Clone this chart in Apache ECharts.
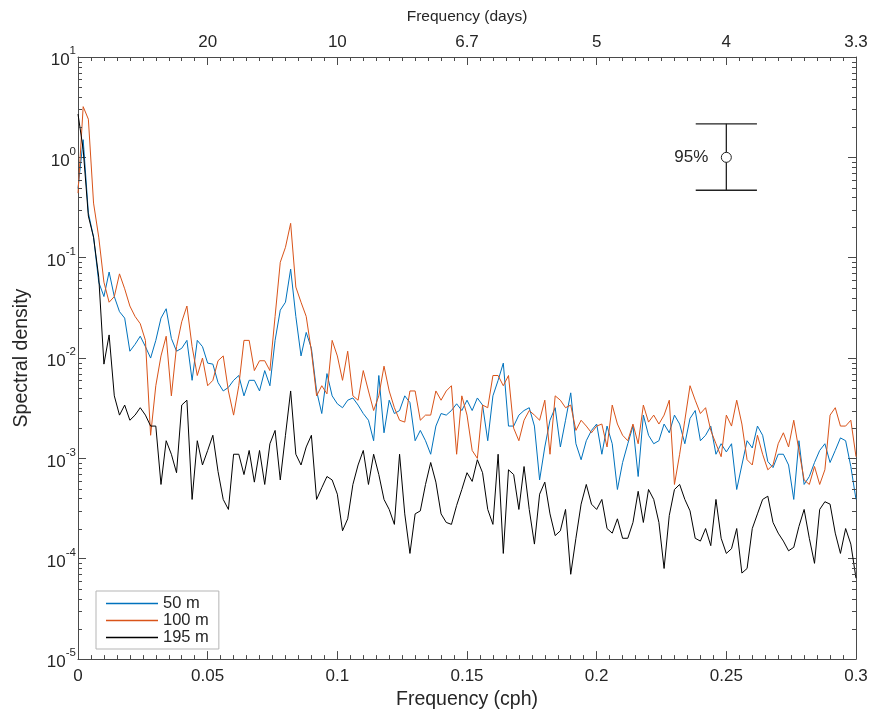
<!DOCTYPE html>
<html><head><meta charset="utf-8">
<script src="https://cdn.jsdelivr.net/npm/echarts@6/dist/echarts.min.js"></script>
<style>html,body{margin:0;padding:0;background:#fff}#c{width:872px;height:715px}</style>
</head><body><div id="c"></div>
<script>
// frequency grid (cph)
const freq = [0,0.002,0.004,0.006,0.008,0.01,0.012,0.014,0.016,0.018,
0.02,0.022,0.024,0.026,0.028,0.03,0.032,0.034,0.036,0.038,
0.04,0.042,0.044,0.046,0.048,0.05,0.052,0.054,0.056,0.058,
0.06,0.062,0.064,0.066,0.068,0.07,0.072,0.074,0.076,0.078,
0.08,0.082,0.084,0.086,0.088,0.09,0.092,0.094,0.096,0.098,
0.1,0.102,0.104,0.106,0.108,0.11,0.112,0.114,0.116,0.118,
0.12,0.122,0.124,0.126,0.128,0.13,0.132,0.134,0.136,0.138,
0.14,0.142,0.144,0.146,0.148,0.15,0.152,0.154,0.156,0.158,
0.16,0.162,0.164,0.166,0.168,0.17,0.172,0.174,0.176,0.178,
0.18,0.182,0.184,0.186,0.188,0.19,0.192,0.194,0.196,0.198,
0.2,0.202,0.204,0.206,0.208,0.21,0.212,0.214,0.216,0.218,
0.22,0.222,0.224,0.226,0.228,0.23,0.232,0.234,0.236,0.238,
0.24,0.242,0.244,0.246,0.248,0.25,0.252,0.254,0.256,0.258,
0.26,0.262,0.264,0.266,0.268,0.27,0.272,0.274,0.276,0.278,
0.28,0.282,0.284,0.286,0.288,0.29,0.292,0.294,0.296,0.298,
0.3];

const spec50 = [0.49,1.5,0.28,0.16,0.057,0.041,0.072,0.041,0.029,0.025,
0.0117,0.0137,0.0165,0.013,0.010,0.015,0.025,0.031,0.0157,0.0117,
0.0125,0.015,0.006,0.015,0.013,0.0089,0.0087,0.0057,0.0047,0.0051,
0.006,0.0067,0.0042,0.006,0.006,0.0047,0.0075,0.0053,0.015,0.030,
0.036,0.077,0.026,0.0105,0.018,0.0125,0.0047,0.0028,0.007,0.0042,
0.0035,0.0032,0.0038,0.004,0.0034,0.0028,0.0024,0.0015,0.0067,0.0018,
0.0038,0.0028,0.003,0.0042,0.0036,0.0015,0.0019,0.0015,0.0011,0.0021,
0.0028,0.0027,0.003,0.0035,0.003,0.0038,0.003,0.004,0.0034,0.0015,
0.0042,0.006,0.0089,0.0021,0.0021,0.0027,0.003,0.0032,0.0021,0.00061,
0.0013,0.0024,0.0032,0.0013,0.0024,0.0045,0.0014,0.00097,0.0015,0.0019,
0.0022,0.0011,0.0021,0.0014,0.00049,0.00091,0.0014,0.0021,0.00066,0.0027,
0.0017,0.0014,0.0015,0.0022,0.0018,0.0027,0.0022,0.0014,0.0025,0.003,
0.0015,0.0017,0.0021,0.0011,0.0014,0.00116,0.0014,0.00049,0.00086,0.0015,
0.00127,0.0021,0.0017,0.00093,0.00081,0.0011,0.0011,0.00086,0.00039,0.0015,
0.00055,0.00066,0.00091,0.0012,0.0014,0.00091,0.0012,0.0016,0.0015,0.00083,
0.00039];

const spec100 = [0.44,3.2,2.4,0.35,0.16,0.057,0.036,0.041,0.069,0.049,
0.033,0.026,0.022,0.015,0.0017,0.0053,0.0105,0.0165,0.0042,0.013,
0.023,0.033,0.013,0.0067,0.010,0.0053,0.006,0.0094,0.0105,0.0047,
0.0027,0.0053,0.015,0.015,0.0075,0.0094,0.0094,0.0075,0.026,0.09,
0.127,0.22,0.051,0.036,0.026,0.0117,0.0042,0.0053,0.0044,0.015,
0.0105,0.006,0.0117,0.0042,0.0038,0.0075,0.0047,0.003,0.0042,0.0083,
0.0047,0.0032,0.0024,0.0023,0.0047,0.0047,0.0024,0.0027,0.0027,0.0047,
0.0038,0.0047,0.0053,0.0011,0.0042,0.0027,0.0012,0.001,0.0034,0.0032,
0.0067,0.0067,0.0053,0.0067,0.002,0.0015,0.0024,0.003,0.0027,0.0024,
0.0038,0.0011,0.0042,0.0038,0.0032,0.0034,0.0019,0.0024,0.0021,0.0018,
0.0021,0.0022,0.0013,0.0034,0.0022,0.0017,0.0015,0.0022,0.0014,0.0034,
0.0023,0.0027,0.0022,0.0027,0.0038,0.00055,0.0011,0.0024,0.0053,0.0038,
0.0028,0.0032,0.0019,0.0014,0.00104,0.0027,0.0021,0.0038,0.0022,0.00097,
0.00086,0.0017,0.0011,0.00077,0.00086,0.0014,0.0018,0.0013,0.0024,0.0012,
0.00061,0.00055,0.00083,0.00055,0.00077,0.0027,0.0032,0.0021,0.0021,0.0024,
0.00104];

const spec195 = [2.7,1.2,0.26,0.16,0.064,0.0087,0.017,0.0042,0.0027,0.0034,
0.0024,0.0027,0.0032,0.0027,0.0021,0.0021,0.00055,0.0015,0.0011,0.00072,
0.0034,0.0038,0.00039,0.0015,0.00086,0.0012,0.0017,0.00074,0.00039,0.00031,
0.0011,0.0011,0.00069,0.0012,0.00058,0.0012,0.00055,0.0014,0.0019,0.00061,
0.0017,0.0047,0.0011,0.00086,0.0013,0.0017,0.00039,0.00051,0.00066,0.00061,
0.00044,0.00019,0.00025,0.00055,0.00086,0.0012,0.00055,0.0011,0.00069,0.00039,
0.00031,0.00022,0.0011,0.00028,0.000113,0.00028,0.0003,0.00055,0.00091,0.00058,
0.00028,0.00023,0.00022,0.00034,0.00049,0.00072,0.00059,0.00097,0.00072,0.00031,
0.00022,0.0011,0.000113,0.00077,0.00069,0.00031,0.00083,0.00031,0.00014,0.00044,
0.00058,0.00028,0.00017,0.00019,0.00031,0.00007,0.00016,0.00035,0.00055,0.00035,
0.00031,0.00039,0.0002,0.00018,0.00025,0.00016,0.00016,0.00023,0.00047,0.00023,
0.00049,0.00039,0.00023,0.00008,0.00027,0.00049,0.00055,0.00039,0.0003,0.00016,
0.00015,0.0002,0.000135,0.00039,0.00016,0.000113,0.000126,0.0002,0.000072,0.00008,
0.0002,0.00028,0.00039,0.00042,0.00023,0.00018,0.00015,0.00012,0.00013,0.00021,
0.00031,0.00016,0.00009,0.00031,0.00037,0.00035,0.00018,0.000113,0.0002,0.00014,
0.000064];

const seriesNames = ['50 m', '100 m', '195 m'];
const seriesColors = ['#0072BD', '#D95319', '#000000'];

const topTickValues = [0.05, 0.1, 0.15, 0.2, 0.25, 0.3];
const topTickLabels = ['20', '10', '6.7', '5', '4', '3.3'];

// 95% confidence bar
const ciFreq = 0.25;
const ciLow = 0.47;
const ciHigh = 2.16;
const ciCenter = 1.0;
const ciCapHalfWidth = 0.0118;
const ciLabel = '95%';

const FONT = '"Liberation Sans", Arial, Helvetica, sans-serif';
const TXT = '#262626';
const AX = '#4a4a4a';

// log minor tick positions (2..9 x 10^k)
const logMinor = [];
for (let k = -5; k <= 0; k++) for (let m = 2; m <= 9; m++) logMinor.push(m * Math.pow(10, k));

const chart = echarts.init(document.getElementById('c'), null, {renderer: 'canvas'});

function lineSeries(name, vals, color) {
  return {
    name, type: 'line', xAxisIndex: 0, yAxisIndex: 0,
    data: freq.map((f, i) => [f, vals[i]]),
    symbol: 'none', showSymbol: false, color: color,
    lineStyle: {color, width: 1}, itemStyle: {color},
    emphasis: {disabled: true}, animation: false, z: 3
  };
}

const supLabel = function (v) {
  const e = Math.round(Math.log10(v));
  return '{b|10}{s|' + e + '}';
};
const supRich = {
  b: {fontSize: 17, fontFamily: FONT, color: TXT, lineHeight: 24, verticalAlign: 'bottom'},
  s: {fontSize: 11.5, fontFamily: FONT, color: TXT, lineHeight: 10, verticalAlign: 'top'}
};

const option = {
  animation: false,
  backgroundColor: '#fff',
  grid: {left: 78, right: 16, top: 57, bottom: 48, containLabel: false},
  xAxis: [
    {
      type: 'value', position: 'bottom', min: 0, max: 0.3, interval: 0.05,
      name: 'Frequency (cph)', nameLocation: 'middle', nameGap: 27,
      nameTextStyle: {fontSize: 19.5, fontFamily: FONT, color: TXT},
      axisLine: {show: true, onZero: false, lineStyle: {color: AX, width: 1}},
      axisTick: {show: true, inside: true, length: 8, lineStyle: {color: AX}},
      minorTick: {show: true, splitNumber: 10, length: 4, lineStyle: {color: AX}},
      axisLabel: {fontSize: 17, fontFamily: FONT, color: TXT, margin: 9,
        formatter: v => String(+v.toFixed(2))},
      splitLine: {show: false}
    },
    {
      type: 'value', position: 'top', min: 0, max: 0.3, interval: 0.05,
      name: 'Frequency (days)', nameLocation: 'middle', nameGap: 32,
      nameTextStyle: {fontSize: 15.5, fontFamily: FONT, color: TXT},
      axisLine: {show: true, onZero: false, lineStyle: {color: AX, width: 1}},
      axisTick: {show: true, inside: true, length: 8, lineStyle: {color: AX}},
      minorTick: {show: true, splitNumber: 10, length: 4, lineStyle: {color: AX}},
      axisLabel: {fontSize: 17, fontFamily: FONT, color: TXT, margin: 6,
        formatter: v => {
          const i = topTickValues.findIndex(t => Math.abs(t - v) < 1e-9);
          return i >= 0 ? topTickLabels[i] : '';
        }},
      splitLine: {show: false}
    }
  ],
  yAxis: [
    {
      type: 'log', logBase: 10, min: 1e-5, max: 10, splitNumber: 6, position: 'left',
      name: 'Spectral density', nameLocation: 'middle', nameGap: 46, nameRotate: 90,
      nameTextStyle: {fontSize: 19.5, fontFamily: FONT, color: TXT},
      axisLine: {show: true, onZero: false, lineStyle: {color: AX, width: 1}},
      axisTick: {show: true, inside: true, length: 8, lineStyle: {color: AX}},
      axisLabel: {margin: 2, formatter: supLabel, rich: supRich},
      splitLine: {show: false}
    },
    {
      type: 'log', logBase: 10, min: 1e-5, max: 10, splitNumber: 6, position: 'right',
      axisLine: {show: true, onZero: false, lineStyle: {color: AX, width: 1}},
      axisTick: {show: true, inside: true, length: 8, lineStyle: {color: AX}},
      axisLabel: {show: false},
      splitLine: {show: false}
    }
  ],
  legend: {
    data: seriesNames.map((n, i) => ({
      name: n, icon: 'rect',
      itemStyle: {color: seriesColors[i], borderWidth: 0, opacity: 1},
      lineStyle: {color: seriesColors[i], width: 0, opacity: 0}
    })),
    orient: 'vertical', left: 96, top: 591,
    itemWidth: 52, itemHeight: 1.3, itemGap: 0,
    padding: [4, 10, 3, 10],
    borderColor: '#b5b5b5', borderWidth: 1, backgroundColor: '#fff',
    textStyle: {fontSize: 16.5, fontFamily: FONT, color: TXT},
    selectedMode: false
  },
  series: [
    lineSeries(seriesNames[0], spec50, seriesColors[0]),
    lineSeries(seriesNames[1], spec100, seriesColors[1]),
    lineSeries(seriesNames[2], spec195, seriesColors[2]),
    {
      type: 'custom', xAxisIndex: 0, yAxisIndex: 0, silent: true, clip: false, z: 5,
      data: logMinor.map(v => [0, v]),
      encode: {x: 0, y: 1},
      renderItem: function (params, api) {
        const v = api.value(1);
        const l = api.coord([0, v]);
        const r = api.coord([0.3, v]);
        const y = Math.round(l[1]) + 0.5;
        return {type: 'group', children: [
          {type: 'line', shape: {x1: l[0], y1: y, x2: l[0] + 4, y2: y}, style: {stroke: AX, lineWidth: 1}},
          {type: 'line', shape: {x1: r[0] - 4, y1: y, x2: r[0], y2: y}, style: {stroke: AX, lineWidth: 1}}
        ]};
      }
    },
    {
      type: 'custom', xAxisIndex: 0, yAxisIndex: 0, silent: true, clip: false, z: 6,
      data: [[ciFreq, ciLow, ciHigh, ciCenter]],
      encode: {x: 0, y: [1, 2]},
      renderItem: function (params, api) {
        const x = api.value(0);
        const top = api.coord([x, api.value(2)]);
        const bot = api.coord([x, api.value(1)]);
        const mid = api.coord([x, api.value(3)]);
        const capL = api.coord([x - ciCapHalfWidth, api.value(2)]);
        const capR = api.coord([x + ciCapHalfWidth, api.value(2)]);
        const st = {stroke: '#222', lineWidth: 1.3, fill: null};
        return {type: 'group', children: [
          {type: 'line', shape: {x1: top[0], y1: top[1], x2: mid[0], y2: mid[1] - 5}, style: st},
          {type: 'line', shape: {x1: mid[0], y1: mid[1] + 5, x2: bot[0], y2: bot[1]}, style: st},
          {type: 'line', shape: {x1: capL[0], y1: top[1], x2: capR[0], y2: top[1]}, style: st},
          {type: 'line', shape: {x1: capL[0], y1: bot[1], x2: capR[0], y2: bot[1]}, style: st},
          {type: 'circle', shape: {cx: mid[0], cy: mid[1], r: 5}, style: {stroke: '#222', lineWidth: 1, fill: 'rgba(0,0,0,0)'}},
          {type: 'text', x: mid[0] - 18, y: mid[1], style: {text: ciLabel, fontSize: 17, fontFamily: FONT, fill: TXT, align: 'right', verticalAlign: 'middle'}}
        ]};
      }
    }
  ]
};
chart.setOption(option);
</script>
</body></html>
